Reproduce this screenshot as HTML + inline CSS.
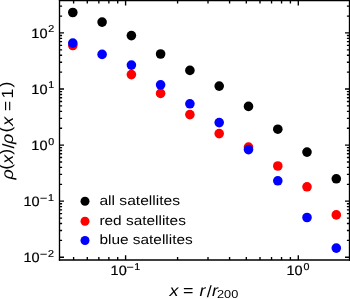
<!DOCTYPE html>
<html><head><meta charset="utf-8"><title>chart</title>
<style>
html,body{margin:0;padding:0;background:#fff;}
body{width:350px;height:299px;overflow:hidden;}
svg{display:block;will-change:transform;}
text{font-family:"Liberation Sans",sans-serif;fill:#000;text-rendering:geometricPrecision;}
.tk{font-size:13.6px;stroke:#000;stroke-width:0.2px;}
.sup{font-size:10px;}
.mn{font-size:11.5px;}
.lg{font-size:13.4px;}
.ax{font-size:16.3px;}
.it{font-style:italic;}
.sub{font-size:11.6px;}
</style></head>
<body>
<svg width="350" height="299" viewBox="0 0 350 299">
<rect x="0" y="0" width="350" height="299" fill="#ffffff"/>
<g fill="#000000"><circle cx="72.8" cy="12.5" r="4.8"/><circle cx="102.1" cy="22.1" r="4.8"/><circle cx="131.4" cy="35.6" r="4.8"/><circle cx="160.6" cy="54.0" r="4.8"/><circle cx="189.9" cy="70.4" r="4.8"/><circle cx="219.2" cy="86.1" r="4.8"/><circle cx="248.5" cy="106.4" r="4.8"/><circle cx="277.8" cy="129.2" r="4.8"/><circle cx="307.0" cy="152.1" r="4.8"/><circle cx="336.3" cy="178.8" r="4.8"/></g>
<g fill="#ff0000"><circle cx="72.8" cy="45.5" r="4.8"/><circle cx="102.1" cy="54.4" r="3.9"/><circle cx="131.4" cy="74.6" r="4.8"/><circle cx="160.6" cy="93.4" r="4.8"/><circle cx="189.9" cy="114.6" r="4.8"/><circle cx="219.2" cy="133.6" r="4.8"/><circle cx="248.5" cy="147.1" r="4.8"/><circle cx="277.8" cy="166.0" r="4.8"/><circle cx="307.0" cy="186.8" r="4.8"/><circle cx="336.3" cy="214.9" r="4.8"/></g>
<g fill="#0000ff"><circle cx="72.8" cy="43.1" r="4.8"/><circle cx="102.1" cy="54.4" r="4.8"/><circle cx="131.4" cy="65.1" r="4.8"/><circle cx="160.6" cy="84.8" r="4.8"/><circle cx="189.9" cy="103.8" r="4.8"/><circle cx="219.2" cy="122.6" r="4.8"/><circle cx="248.5" cy="149.6" r="4.8"/><circle cx="277.8" cy="180.8" r="4.8"/><circle cx="307.0" cy="217.5" r="4.8"/><circle cx="336.3" cy="248.1" r="4.8"/></g>
<path d="M73.61 260.00v-2.9M73.61 0.60v2.9M87.29 260.00v-2.9M87.29 0.60v2.9M98.85 260.00v-2.9M98.85 0.60v2.9M108.86 260.00v-2.9M108.86 0.60v2.9M117.70 260.00v-2.9M117.70 0.60v2.9M125.60 260.00v-4.8M125.60 0.60v4.8M177.59 260.00v-2.9M177.59 0.60v2.9M208.00 260.00v-2.9M208.00 0.60v2.9M229.58 260.00v-2.9M229.58 0.60v2.9M246.31 260.00v-2.9M246.31 0.60v2.9M259.99 260.00v-2.9M259.99 0.60v2.9M271.55 260.00v-2.9M271.55 0.60v2.9M281.56 260.00v-2.9M281.56 0.60v2.9M290.40 260.00v-2.9M290.40 0.60v2.9M298.30 260.00v-4.8M298.30 0.60v4.8M59.50 257.26h4.5M349.50 257.26h-4.5M59.50 240.38h2.6M349.50 240.38h-2.6M59.50 230.50h2.6M349.50 230.50h-2.6M59.50 223.50h2.6M349.50 223.50h-2.6M59.50 218.06h2.6M349.50 218.06h-2.6M59.50 213.62h2.6M349.50 213.62h-2.6M59.50 209.87h2.6M349.50 209.87h-2.6M59.50 206.61h2.6M349.50 206.61h-2.6M59.50 203.75h2.6M349.50 203.75h-2.6M59.50 201.18h4.5M349.50 201.18h-4.5M59.50 184.30h2.6M349.50 184.30h-2.6M59.50 174.42h2.6M349.50 174.42h-2.6M59.50 167.42h2.6M349.50 167.42h-2.6M59.50 161.98h2.6M349.50 161.98h-2.6M59.50 157.54h2.6M349.50 157.54h-2.6M59.50 153.79h2.6M349.50 153.79h-2.6M59.50 150.53h2.6M349.50 150.53h-2.6M59.50 147.67h2.6M349.50 147.67h-2.6M59.50 145.10h4.5M349.50 145.10h-4.5M59.50 128.22h2.6M349.50 128.22h-2.6M59.50 118.34h2.6M349.50 118.34h-2.6M59.50 111.34h2.6M349.50 111.34h-2.6M59.50 105.90h2.6M349.50 105.90h-2.6M59.50 101.46h2.6M349.50 101.46h-2.6M59.50 97.71h2.6M349.50 97.71h-2.6M59.50 94.45h2.6M349.50 94.45h-2.6M59.50 91.59h2.6M349.50 91.59h-2.6M59.50 89.02h4.5M349.50 89.02h-4.5M59.50 72.14h2.6M349.50 72.14h-2.6M59.50 62.26h2.6M349.50 62.26h-2.6M59.50 55.26h2.6M349.50 55.26h-2.6M59.50 49.82h2.6M349.50 49.82h-2.6M59.50 45.38h2.6M349.50 45.38h-2.6M59.50 41.63h2.6M349.50 41.63h-2.6M59.50 38.37h2.6M349.50 38.37h-2.6M59.50 35.51h2.6M349.50 35.51h-2.6M59.50 32.94h4.5M349.50 32.94h-4.5M59.50 16.06h2.6M349.50 16.06h-2.6M59.50 6.18h2.6M349.50 6.18h-2.6" stroke="#000" stroke-width="1.35" fill="none"/>
<path d="M59.5 -0.09999999999999998V260.7M349.5 -0.09999999999999998V260.7" stroke="#000" stroke-width="1.35" fill="none"/>
<path d="M58.9 0.6H350.1M58.9 260.0H350.1" stroke="#000" stroke-width="1.5" fill="none"/>
<text class="tk" transform="translate(31.3 37.9) scale(1.07 1)"><tspan x="0.00" y="0">10</tspan><tspan x="15.89" y="-5.6" class="sup">2</tspan></text>
<text class="tk" transform="translate(31.3 94.0) scale(1.07 1)"><tspan x="0.00" y="0">10</tspan><tspan x="15.89" y="-5.6" class="sup">1</tspan></text>
<text class="tk" transform="translate(31.3 150.1) scale(1.07 1)"><tspan x="0.00" y="0">10</tspan><tspan x="15.89" y="-5.6" class="sup">0</tspan></text>
<text class="tk" transform="translate(23.4 206.2) scale(1.07 1)"><tspan x="0.00" y="0">10</tspan><tspan x="15.51" y="-4.0" class="mn">−</tspan><tspan x="22.90" y="-5.6" class="sup">1</tspan></text>
<text class="tk" transform="translate(23.4 262.3) scale(1.07 1)"><tspan x="0.00" y="0">10</tspan><tspan x="15.51" y="-4.0" class="mn">−</tspan><tspan x="22.90" y="-5.6" class="sup">2</tspan></text>
<text class="tk" transform="translate(286.4 275.4) scale(1.07 1)"><tspan x="0.00" y="0">10</tspan><tspan x="15.89" y="-5.6" class="sup">0</tspan></text>
<text class="tk" transform="translate(110.6 275.4) scale(1.07 1)"><tspan x="0.00" y="0">10</tspan><tspan x="14.95" y="-4.0" class="mn">−</tspan><tspan x="22.06" y="-5.6" class="sup">1</tspan></text>
<circle cx="85.0" cy="201.3" r="4.5" fill="#000"/><text class="lg" transform="translate(99.4 205.4) scale(1.165 1)"><tspan x="0.00" y="0">all satellites</tspan></text>
<circle cx="85.0" cy="221.3" r="4.5" fill="#f00"/><text class="lg" transform="translate(99.4 224.7) scale(1.15 1)"><tspan x="0.00" y="0">red satellites</tspan></text>
<circle cx="85.0" cy="240.5" r="4.5" fill="#00f"/><text class="lg" transform="translate(99.4 244.2) scale(1.15 1)"><tspan x="0.00" y="0">blue satellites</tspan></text>
<text class="ax" transform="translate(169.4 295.6) scale(1.1 1)"><tspan x="0.00" y="0" class="it">x</tspan><tspan x="12.36" y="0">=</tspan><tspan x="27.45" y="0" class="it">r</tspan><tspan x="34.00" y="1.0">/</tspan><tspan x="38.73" y="0" class="it">r</tspan><tspan x="43.27" y="2.8" class="sub">200</tspan></text>
<text class="ax" transform="translate(12.6 179.6) rotate(-90) scale(1.1 1)"><tspan x="0.00" y="0" class="it">ρ</tspan><tspan x="8.91" y="-1.4">(</tspan><tspan x="14.36" y="0" class="it">x</tspan><tspan x="22.64" y="-1.4">)</tspan><tspan x="28.18" y="1.0">/</tspan><tspan x="32.27" y="0" class="it">ρ</tspan><tspan x="42.73" y="-1.4">(</tspan><tspan x="48.91" y="0" class="it">x</tspan><tspan x="62.09" y="0">=</tspan><tspan x="73.82" y="0">1</tspan><tspan x="83.82" y="-1.4">)</tspan></text>
</svg>
</body></html>
